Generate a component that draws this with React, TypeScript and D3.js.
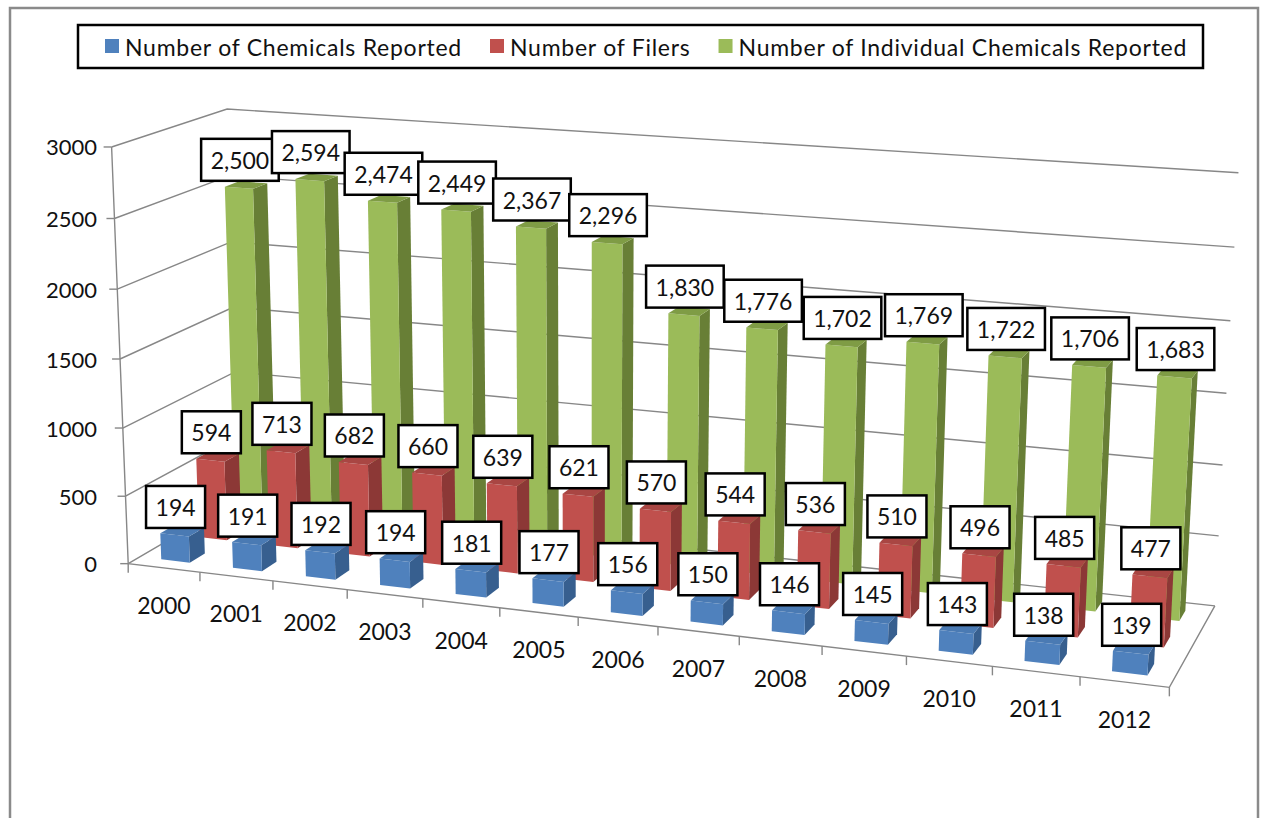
import React, { useRef, useEffect } from 'react';
import * as d3 from 'd3';

const years = ['2000', '2001', '2002', '2003', '2004', '2005', '2006', '2007', '2008', '2009', '2010', '2011', '2012'];
const seriesNames = ['Number of Chemicals Reported', 'Number of Filers', 'Number of Individual Chemicals Reported'];
const chemicalsReported = [194, 191, 192, 194, 181, 177, 156, 150, 146, 145, 143, 138, 139];
const filers = [594, 713, 682, 660, 639, 621, 570, 544, 536, 510, 496, 485, 477];
const individualChemicals = [2500, 2594, 2474, 2449, 2367, 2296, 1830, 1776, 1702, 1769, 1722, 1706, 1683];
const yTicks = [0, 500, 1000, 1500, 2000, 2500, 3000];

const frontColors = ['#4f81bd', '#c0504d', '#9bbb59'];
const sideColors = ['#375f8f', '#8c3836', '#687f36'];
const topColors = ['#4a7ab3', '#a94643', '#7f9c45'];

// where the corners of the 3-D plot box land on the page
// x: category edge (0..13), v: value, z: 0 = front of floor, 1 = back wall
const frameAnchors = [
  { x: 0, v: 0, z: 0, px: [130, 564] },
  { x: 0, v: 1500, z: 0, px: [120, 358] },
  { x: 0, v: 3000, z: 0, px: [110, 147] },
  { x: 0, v: 3000, z: 1, px: [230, 109] },
  { x: 0, v: 1500, z: 1, px: [232, 308] },
  { x: 0, v: 1000, z: 1, px: [233, 372] },
  { x: 13, v: 0, z: 0, px: [1169, 688] },
  { x: 13, v: 0, z: 1, px: [1215, 605] },
  { x: 13, v: 1500, z: 1, px: [1227, 393] },
  { x: 13, v: 3000, z: 1, px: [1238, 173] },
  { x: 4, v: 0, z: 0, px: [423, 598] },
  { x: 7, v: 0, z: 0, px: [658, 627] },
  { x: 12, v: 0, z: 0, px: [1080, 677] },
];

// least squares fit of a 3x4 perspective camera to the anchors
function fitCamera(anchors) {
  const rows = [];
  const rhs = [];
  anchors.forEach(a => {
    const x = a.x / 13, y = a.v / 3000, z = a.z;
    const u = (a.px[0] - 640) / 500, v = (a.px[1] - 400) / 500;
    rows.push([x, y, z, 1, 0, 0, 0, 0, -u * x, -u * y, -u * z]); rhs.push(u);
    rows.push([0, 0, 0, 0, x, y, z, 1, -v * x, -v * y, -v * z]); rhs.push(v);
  });
  const n = 11;
  const M = d3.range(n).map(i => d3.range(n + 1).map(j => {
    let s = 0;
    rows.forEach((r, k) => { s += r[i] * (j < n ? r[j] : rhs[k]); });
    return s;
  }));
  for (let c = 0; c < n; c++) {
    let piv = c;
    for (let r = c + 1; r < n; r++) if (Math.abs(M[r][c]) > Math.abs(M[piv][c])) piv = r;
    const tmp = M[c]; M[c] = M[piv]; M[piv] = tmp;
    for (let r = 0; r < n; r++) {
      if (r === c) continue;
      const f = M[r][c] / M[c][c];
      for (let k = c; k <= n; k++) M[r][k] -= f * M[c][k];
    }
  }
  const p = d3.range(n).map(i => M[i][n] / M[i][i]);
  return (X, V, Z) => {
    const x = X / 13, y = V / 3000, z = Z;
    const w = p[8] * x + p[9] * y + p[10] * z + 1;
    const u = (p[0] * x + p[1] * y + p[2] * z + p[3]) / w;
    const v = (p[4] * x + p[5] * y + p[6] * z + p[7]) / w;
    return [u * 500 + 640, v * 500 + 400];
  };
}

const App = () => {
  const ref = useRef(null);

  useEffect(() => {
    const svg = d3.select(ref.current);
    svg.selectAll('*').remove();
    const font = 'Lato, "Open Sans", sans-serif';
    const proj = fitCamera(frameAnchors);
    const values = [chemicalsReported, filers, individualChemicals];

    const xBand = d3.scaleBand().domain(years).range([0, 13]).paddingInner(0.6).paddingOuter(0.3);
    const zBand = d3.scaleBand().domain(seriesNames).range([0, 1]).paddingInner(0.6).paddingOuter(0.3);
    const poly = pts => pts.map(p => p.join(',')).join(' ');

    svg.append('rect')
      .attr('x', 10).attr('y', 8).attr('width', 1248).attr('height', 830)
      .attr('fill', '#fff').attr('stroke', '#8a8a8a').attr('stroke-width', 2.5);

    // walls
    const grid = svg.append('g').attr('stroke', '#878787').attr('stroke-width', 1.4).attr('fill', 'none');
    yTicks.forEach(t => {
      grid.append('polyline').attr('points', poly([proj(0, t, 0), proj(0, t, 1), proj(13, t, 1)]));
      const a = proj(0, t, 0);
      grid.append('line').attr('x1', a[0] - 8).attr('x2', a[0]).attr('y1', a[1]).attr('y2', a[1]);
    });
    grid.append('polyline').attr('points', poly([proj(0, 3000, 0), proj(0, 0, 0), proj(13, 0, 0), proj(13, 0, 1)]));
    d3.range(14).forEach(i => {
      const a = proj(i, 0, 0);
      grid.append('line').attr('x1', a[0]).attr('x2', a[0]).attr('y1', a[1]).attr('y2', a[1] + 9);
    });

    // bars, back row first
    const bars = svg.append('g');
    [2, 1, 0].forEach(s => {
      const z0 = zBand(seriesNames[s]);
      const z1 = z0 + zBand.bandwidth();
      years.forEach((yr, i) => {
        const x0 = xBand(yr);
        const x1 = x0 + xBand.bandwidth();
        const v = values[s][i];
        bars.append('polygon').attr('fill', sideColors[s])
          .attr('points', poly([proj(x1, 0, z0), proj(x1, 0, z1), proj(x1, v, z1), proj(x1, v, z0)]));
        bars.append('polygon').attr('fill', frontColors[s])
          .attr('points', poly([proj(x0, 0, z0), proj(x1, 0, z0), proj(x1, v, z0), proj(x0, v, z0)]));
        bars.append('polygon').attr('fill', topColors[s])
          .attr('points', poly([proj(x0, v, z0), proj(x1, v, z0), proj(x1, v, z1), proj(x0, v, z1)]));
      });
    });

    // data labels
    const labels = svg.append('g').attr('font-family', font).attr('font-size', 23);
    [0, 1, 2].forEach(s => {
      const z0 = zBand(seriesNames[s]);
      years.forEach((yr, i) => {
        const v = values[s][i];
        const a = proj(xBand(yr) + xBand.bandwidth() / 2, v, z0);
        const g = labels.append('g');
        const rect = g.append('rect').attr('fill', '#fff').attr('stroke', '#000').attr('stroke-width', 2.5);
        const txt = g.append('text')
          .attr('x', a[0] + 1).attr('y', a[1] - 7 - 21)
          .attr('text-anchor', 'middle').attr('dominant-baseline', 'central')
          .attr('fill', '#111')
          .text(d3.format(',')(v));
        const w = txt.node().getComputedTextLength() + 19;
        rect.attr('x', a[0] + 1 - w / 2).attr('y', a[1] - 7 - 42).attr('width', w).attr('height', 42);
      });
    });

    // axis labels
    svg.append('g').attr('font-family', font).attr('font-size', 22).attr('fill', '#111')
      .selectAll('text').data(yTicks).join('text')
      .attr('x', 97).attr('y', d => proj(0, d, 0)[1])
      .attr('text-anchor', 'end').attr('dominant-baseline', 'central')
      .text(d => d);

    svg.append('g').attr('font-family', font).attr('font-size', 23).attr('fill', '#111')
      .selectAll('text').data(years).join('text')
      .attr('x', d => proj(xBand(d) + xBand.bandwidth() / 2, 0, 0)[0])
      .attr('y', d => proj(xBand(d) + xBand.bandwidth() / 2, 0, 0)[1] + 37)
      .attr('text-anchor', 'middle').attr('dominant-baseline', 'central')
      .text(d => d);

    // legend
    const legend = svg.append('g').attr('font-family', font).attr('font-size', 23).attr('letter-spacing', 0.75);
    legend.append('rect').attr('x', 78).attr('y', 25).attr('width', 1125).attr('height', 43)
      .attr('fill', '#fff').attr('stroke', '#000').attr('stroke-width', 2.5);
    let lx = 105;
    seriesNames.forEach((name, s) => {
      legend.append('rect').attr('x', lx).attr('y', 39).attr('width', 14).attr('height', 14).attr('fill', frontColors[s]);
      const t = legend.append('text').attr('x', lx + 20).attr('y', 46.5)
        .attr('dominant-baseline', 'central').attr('fill', '#111').text(name);
      lx += 20 + t.node().getComputedTextLength() + 28;
    });
  }, []);

  return (
    <svg ref={ref} width="1261" height="818" style={{ position: 'absolute', left: 0, top: 0 }}></svg>
  );
};

export default App;
